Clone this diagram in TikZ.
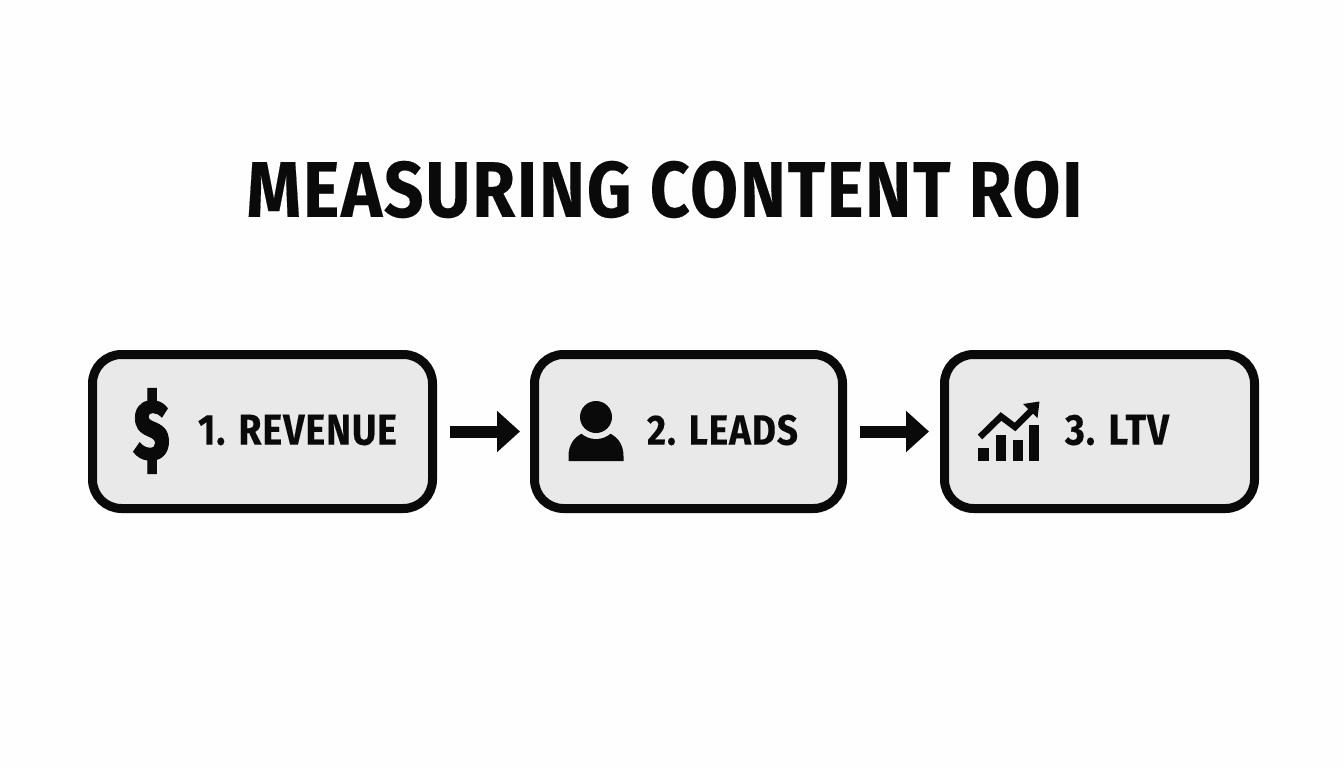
\documentclass[tikz,border=0pt]{standalone}
\usepackage{graphicx}
\usepackage{fontspec}
\setmainfont{Fira Sans}[BoldFont={Fira Sans Bold},BoldFeatures={FakeBold=0.25,LetterSpace=2.5}]
\newfontfamily\heavyfont{Fira Sans Bold}[FakeBold=1.2]
\usetikzlibrary{arrows.meta}
\definecolor{ink}{HTML}{0A0A0A}
\definecolor{panel}{HTML}{E9E9E9}
\definecolor{paper}{HTML}{FEFEFE}
\tikzset{
  stagebox/.style={draw=ink,fill=panel,line width=9pt,rounded corners=29pt,inner sep=0pt,minimum height=154pt},
  fitted/.style={inner sep=0pt,outer sep=0pt,text=ink,font=\bfseries\fontsize{40}{40}\selectfont},
  flow/.style={draw=ink,line width=12pt,-{Triangle[length=23pt,width=40pt,fill=ink]}},
}
\begin{document}
\begin{tikzpicture}[x=1pt,y=-1pt]
\useasboundingbox (0,0) rectangle (1344,768);
\fill[paper] (0,0) rectangle (1344,768);
\node[fitted] (title) at (664.5,189.5) {\resizebox{836pt}{56pt}{MEASURING CONTENT ROI}};
\node[stagebox,minimum width=340pt] (b1) at (262.5,431.5) {};
\node[stagebox,minimum width=308pt] (b2) at (688.5,431.5) {};
\node[stagebox,minimum width=310pt] (b3) at (1099.5,431.5) {};
\draw[flow,shorten <=13pt,shorten >=10pt] (b1) -- (b2);
\draw[flow,shorten <=13pt,shorten >=11pt] (b2) -- (b3);
\node[fitted] (dollar) at (151.5,431) {\resizebox{36pt}{71pt}{\heavyfont\$}};
\node[fitted] (t1) at (297.5,430) {\resizebox{199pt}{30pt}{1. REVENUE}};
\node[fitted] (t2) at (722.5,430) {\resizebox{151pt}{30pt}{2. LEADS}};
\node[fitted] (t3) at (1117,430) {\resizebox{104pt}{30pt}{3. LTV}};
% person icon
\fill[ink] (568.5,461) -- (568.5,456) .. controls (568.5,445) and (574,437) .. (583,433) -- (609,433) .. controls (618,437) and (623.5,445) .. (623.5,456) -- (623.5,461) -- cycle;
\fill[panel] (596,417) circle (22pt);
\fill[ink] (596,417) circle (16pt);
% chart icon
\fill[ink] (978,448) rectangle (989,461);
\fill[ink] (996,435) rectangle (1006,461);
\fill[ink] (1013,440) rectangle (1023,461);
\fill[ink] (1029,425) rectangle (1039,461);
\draw[ink,line width=6.5pt] (980,437) -- (1001,416.5) -- (1015,427) -- (1033,409);
\fill[ink] (1039.5,401.5) -- (1023,404) -- (1037.5,418) -- cycle;
\end{tikzpicture}
\end{document}
